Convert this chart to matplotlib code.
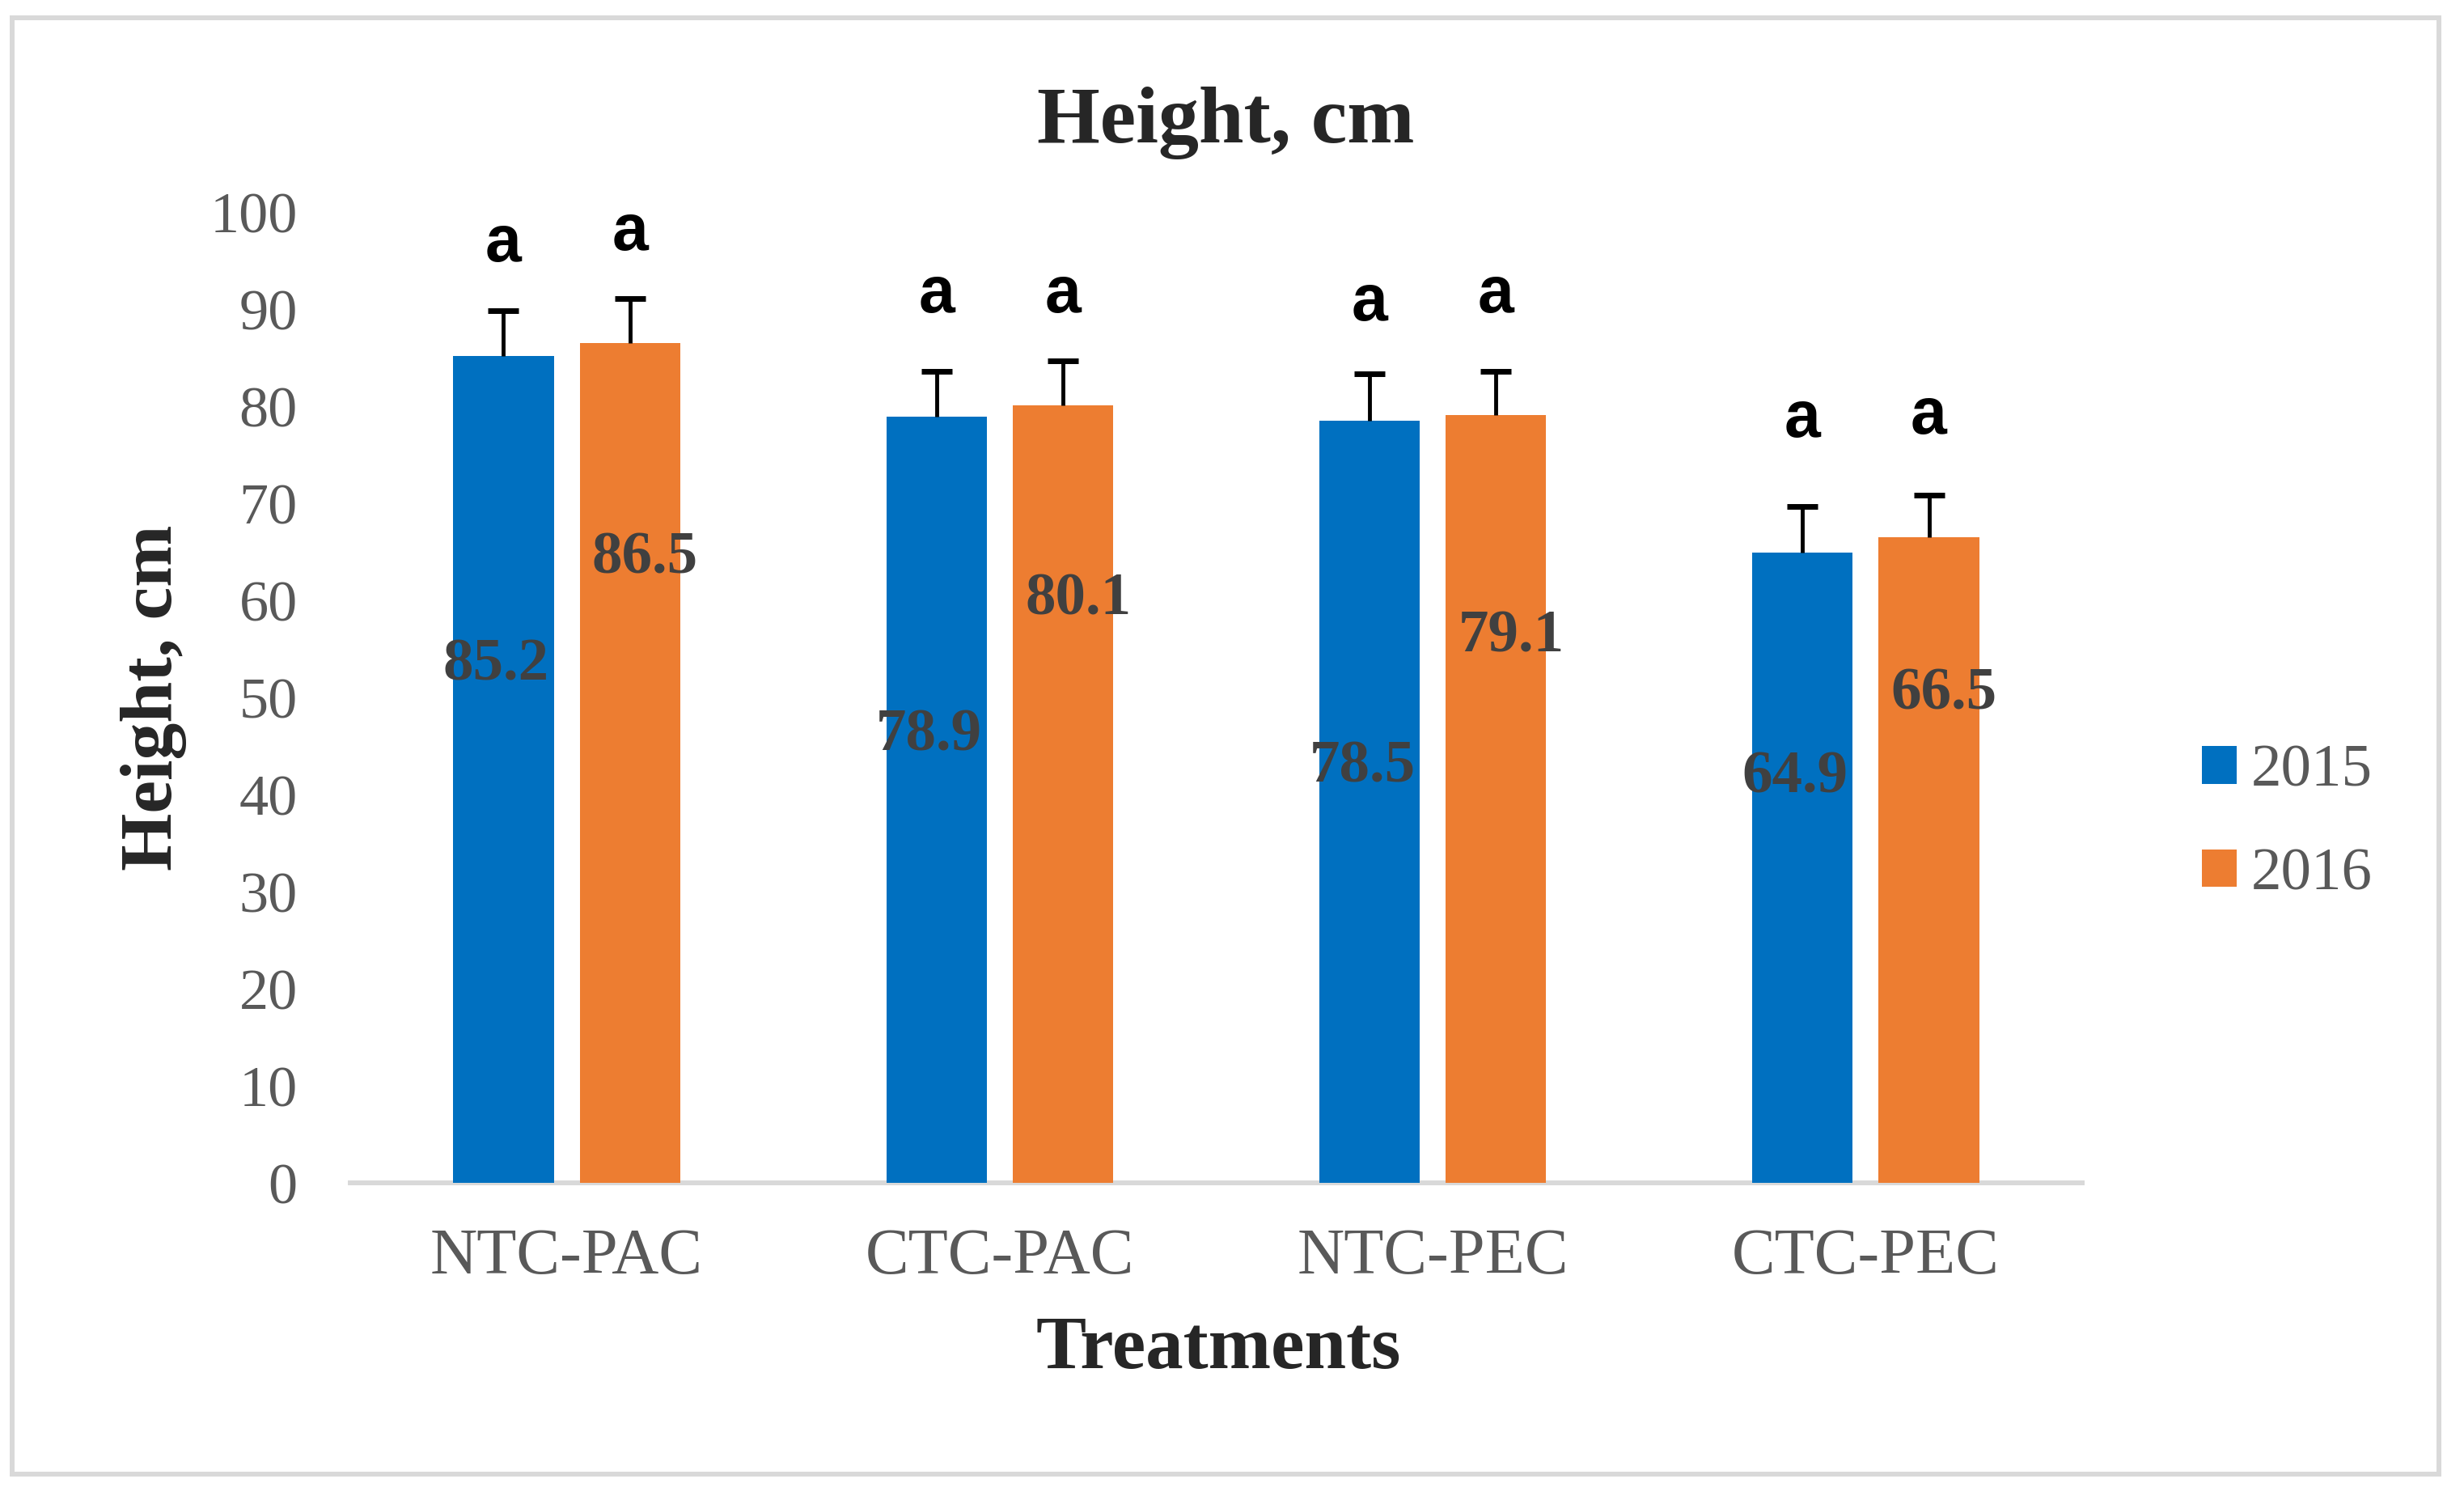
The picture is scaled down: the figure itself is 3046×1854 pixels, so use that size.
import numpy as np
import matplotlib
matplotlib.use('Agg')
import matplotlib.pyplot as plt
from matplotlib.patches import Rectangle

plt.rcParams['font.family'] = ['Liberation Serif', 'DejaVu Serif']

treatments = ['NTC-PAC', 'CTC-PAC', 'NTC-PEC', 'CTC-PEC']
years = ['2015', '2016']
height_2015 = [85.2, 78.9, 78.5, 64.9]
height_2016 = [86.5, 80.1, 79.1, 66.5]
err_2015 = [4.6, 4.7, 4.8, 4.8]
err_2016 = [4.6, 4.6, 4.5, 4.3]
letters_2015 = ['a', 'a', 'a', 'a']
letters_2016 = ['a', 'a', 'a', 'a']
# where Excel dropped the value labels inside the bars (data units)
label_y_2015 = [53.3, 46.0, 42.8, 41.7]
label_y_2016 = [64.3, 60.0, 56.2, 50.3]
letter_y_2015 = [96.7, 91.4, 90.6, 78.6]
letter_y_2016 = [97.8, 91.4, 91.4, 78.9]

blue = '#0070C0'
orange = '#ED7D31'

W, H = 3046, 1854
fig = plt.figure(figsize=(W / 100, H / 100), dpi=100)
ax = fig.add_axes([433 / W, 1 - 1462 / H, (2574 - 433) / W, (1462 - 262) / H])

x = np.arange(len(treatments))
bw = 0.232
off = 0.146

b1 = ax.bar(x - off, height_2015, bw, color=blue, label=years[0], zorder=2)
b2 = ax.bar(x + off, height_2016, bw, color=orange, label=years[1], zorder=2)
for xs, hs, es in [(x - off, height_2015, err_2015), (x + off, height_2016, err_2016)]:
    eb = ax.errorbar(xs, hs, yerr=[np.zeros(4), es], fmt='none',
                     ecolor='black', elinewidth=3.5, capsize=14, capthick=5, zorder=3)
    # plus-only error bars: drop the caps sitting on the bar tops
    for cap in eb[1]:
        if np.allclose(cap.get_ydata(), hs):
            cap.set_visible(False)

for i in range(len(treatments)):
    ax.text(x[i] - off - 0.017, label_y_2015[i], '%.1f' % height_2015[i],
            ha='center', va='center', fontsize=54, fontweight='bold',
            color='#404040', zorder=4)
    ax.text(x[i] + off + 0.035, label_y_2016[i], '%.1f' % height_2016[i],
            ha='center', va='center', fontsize=54, fontweight='bold',
            color='#404040', zorder=4)
    ax.text(x[i] - off, letter_y_2015[i], letters_2015[i], ha='center',
            va='center', fontsize=58, fontweight='bold', family='Liberation Sans',
            color='black', clip_on=False)
    ax.text(x[i] + off, letter_y_2016[i], letters_2016[i], ha='center',
            va='center', fontsize=58, fontweight='bold', family='Liberation Sans',
            color='black', clip_on=False)

ax.set_xlim(-0.5, 3.5)
ax.set_ylim(0, 100)
ax.set_yticks(np.arange(0, 101, 10))
ax.set_xticks(x)
ax.set_xticklabels(treatments)
ax.tick_params(axis='y', length=0, pad=47, labelsize=52, labelcolor='#595959')
ax.tick_params(axis='x', length=0, pad=40, labelsize=58, labelcolor='#595959')
for s in ['top', 'right', 'left']:
    ax.spines[s].set_visible(False)
ax.spines['bottom'].set_color('#d9d9d9')
ax.spines['bottom'].set_linewidth(4.3)
ax.spines['bottom'].set_zorder(1)

fig.text(1515 / W, 1 - 152 / H, 'Height, cm', ha='center', va='center',
         fontsize=72, fontweight='bold', color='#262626')
fig.text(190 / W, 1 - 862 / H, 'Height, cm', ha='center', va='center',
         rotation=90, fontsize=66, fontweight='bold', color='#262626')
fig.text(1506 / W, 1 - 1668 / H, 'Treatments', ha='center', va='center',
         fontsize=67, fontweight='bold', color='#262626')

ax.legend(handles=[b1, b2], loc='center left',
          bbox_to_anchor=(2722 / W, 1 - 1018 / H), bbox_transform=fig.transFigure,
          frameon=False, fontsize=54, handlelength=0.57, handleheight=0.57,
          handletextpad=0.24, labelspacing=0.8, borderpad=0, borderaxespad=0,
          labelcolor='#595959')

fig.patches.append(Rectangle((15 / W, 1 - 1822 / H), 3000 / W, 1800 / H,
                             transform=fig.transFigure, fill=False,
                             edgecolor='#d9d9d9', linewidth=4.3))

fig.savefig('out.png', dpi=100)
